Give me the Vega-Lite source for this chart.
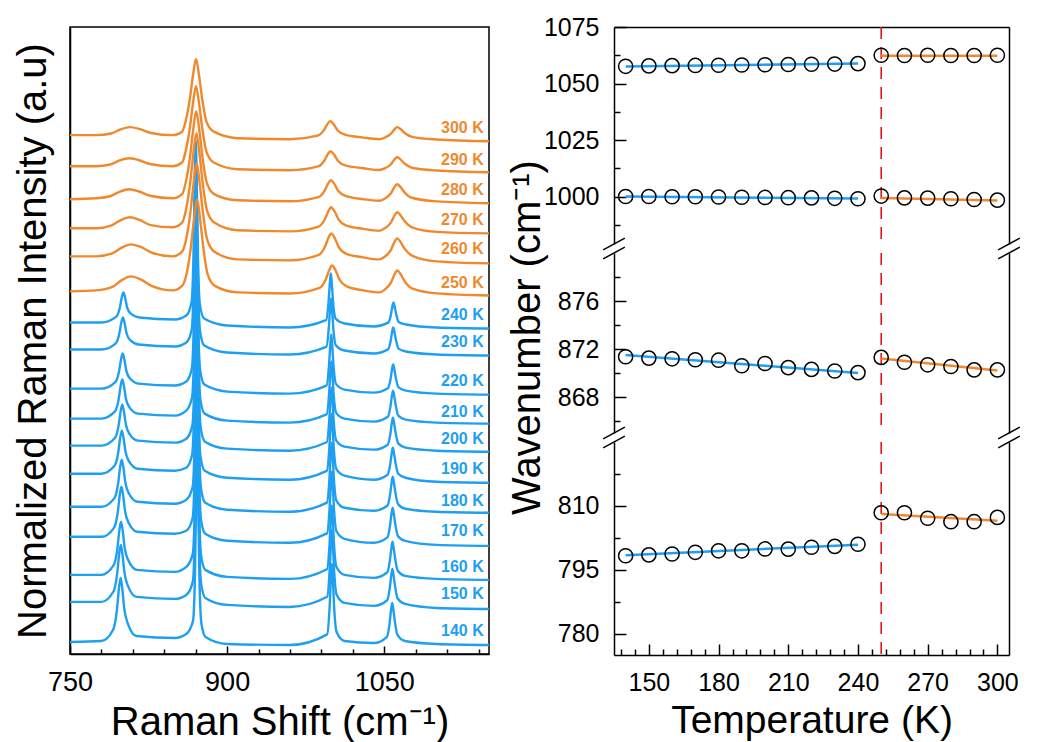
{
"$schema":"https://vega.github.io/schema/vega-lite/v6.json",
"padding":{"left":12,"top":15,"right":0,"bottom":0},
"config":{"font":"Liberation Sans","view":{"stroke":null},"axis":{"grid":false,"domainColor":"black","tickColor":"black","labelColor":"black","titleColor":"black","domainWidth":1.5,"tickWidth":1.5,"labelFont":"Liberation Sans","titleFont":"Liberation Sans","titleFontWeight":"normal","labelFlush":false,"labelOverlap":false}},
"datasets":{
"blue":[
{"T":140,"x":750,"y":12},{"T":140,"x":780,"y":13},{"T":140,"x":791.3,"y":24.5},{"T":140,"x":794.8,"y":44},{"T":140,"x":796.8,"y":66.4},{"T":140,"x":798.3,"y":76},{"T":140,"x":799.8,"y":66.4},{"T":140,"x":801.8,"y":45.3},{"T":140,"x":805.3,"y":30},{"T":140,"x":813.3,"y":18},{"T":140,"x":850,"y":16},{"T":140,"x":861,"y":20},{"T":140,"x":867.4,"y":33},{"T":140,"x":869.4,"y":85},{"T":140,"x":870.6,"y":168},{"T":140,"x":871.4,"y":196},{"T":140,"x":872.2,"y":168},{"T":140,"x":873.4,"y":85},{"T":140,"x":875.4,"y":31},{"T":140,"x":879.4,"y":17},{"T":140,"x":900,"y":10},{"T":140,"x":960,"y":9},{"T":140,"x":995.5,"y":19.6},{"T":140,"x":997.8,"y":46},{"T":140,"x":999.2,"y":78},{"T":140,"x":1000,"y":90},{"T":140,"x":1000.8,"y":78},{"T":140,"x":1002.2,"y":46},{"T":140,"x":1004.5,"y":22},{"T":140,"x":1012,"y":13},{"T":140,"x":1040,"y":11},{"T":140,"x":1052.6,"y":17.2},{"T":140,"x":1055.1,"y":30.5},{"T":140,"x":1056.6,"y":44.9},{"T":140,"x":1057.6,"y":51},{"T":140,"x":1058.6,"y":44.9},{"T":140,"x":1060.1,"y":32.6},{"T":140,"x":1062.6,"y":19},{"T":140,"x":1069.6,"y":13},{"T":140,"x":1100,"y":10},{"T":140,"x":1150,"y":9},
{"T":150,"x":750,"y":52},{"T":150,"x":780,"y":52},{"T":150,"x":791.5,"y":62.4},{"T":150,"x":795,"y":80},{"T":150,"x":797,"y":100.3},{"T":150,"x":798.5,"y":109},{"T":150,"x":800,"y":100.3},{"T":150,"x":802,"y":81.2},{"T":150,"x":805.5,"y":67.5},{"T":150,"x":813.5,"y":57},{"T":150,"x":850,"y":55},{"T":150,"x":861,"y":59},{"T":150,"x":867.2,"y":72},{"T":150,"x":869.2,"y":124},{"T":150,"x":870.4,"y":207},{"T":150,"x":871.2,"y":235},{"T":150,"x":872,"y":207},{"T":150,"x":873.2,"y":124},{"T":150,"x":875.2,"y":70},{"T":150,"x":879.2,"y":56},{"T":150,"x":900,"y":49},{"T":150,"x":960,"y":47},{"T":150,"x":995.5,"y":57.1},{"T":150,"x":997.8,"y":82.2},{"T":150,"x":999.2,"y":112.6},{"T":150,"x":1000,"y":124},{"T":150,"x":1000.8,"y":112.6},{"T":150,"x":1002.2,"y":82.2},{"T":150,"x":1004.5,"y":59.4},{"T":150,"x":1012,"y":51},{"T":150,"x":1040,"y":48},{"T":150,"x":1052.8,"y":53.7},{"T":150,"x":1055.3,"y":66},{"T":150,"x":1056.8,"y":79.3},{"T":150,"x":1057.8,"y":85},{"T":150,"x":1058.8,"y":79.3},{"T":150,"x":1060.3,"y":67.9},{"T":150,"x":1062.8,"y":55.4},{"T":150,"x":1069.8,"y":50},{"T":150,"x":1100,"y":46},{"T":150,"x":1150,"y":45},
{"T":160,"x":750,"y":79},{"T":160,"x":780,"y":79},{"T":160,"x":791.7,"y":88.7},{"T":160,"x":795.2,"y":105},{"T":160,"x":797.2,"y":123.9},{"T":160,"x":798.7,"y":132},{"T":160,"x":800.2,"y":123.9},{"T":160,"x":802.2,"y":106.1},{"T":160,"x":805.7,"y":93.5},{"T":160,"x":813.7,"y":84},{"T":160,"x":850,"y":82},{"T":160,"x":861,"y":87},{"T":160,"x":867.2,"y":100},{"T":160,"x":869.2,"y":152},{"T":160,"x":870.4,"y":235},{"T":160,"x":871.2,"y":263},{"T":160,"x":872,"y":235},{"T":160,"x":873.2,"y":152},{"T":160,"x":875.2,"y":98},{"T":160,"x":879.2,"y":84},{"T":160,"x":900,"y":77},{"T":160,"x":960,"y":75},{"T":160,"x":995.4,"y":84.6},{"T":160,"x":997.7,"y":108.4},{"T":160,"x":999.1,"y":137.2},{"T":160,"x":999.9,"y":148},{"T":160,"x":1000.7,"y":137.2},{"T":160,"x":1002.1,"y":108.4},{"T":160,"x":1004.4,"y":86.8},{"T":160,"x":1012,"y":79},{"T":160,"x":1040,"y":76},{"T":160,"x":1052.9,"y":81.6},{"T":160,"x":1055.4,"y":93.5},{"T":160,"x":1056.9,"y":106.5},{"T":160,"x":1057.9,"y":112},{"T":160,"x":1058.9,"y":106.5},{"T":160,"x":1060.4,"y":95.4},{"T":160,"x":1062.9,"y":83.1},{"T":160,"x":1069.9,"y":78},{"T":160,"x":1100,"y":75},{"T":160,"x":1150,"y":74},
{"T":170,"x":750,"y":117},{"T":170,"x":780,"y":117},{"T":170,"x":792.1,"y":126.2},{"T":170,"x":795.6,"y":141.5},{"T":170,"x":797.6,"y":159.4},{"T":170,"x":799.1,"y":167},{"T":170,"x":800.6,"y":159.4},{"T":170,"x":802.6,"y":142.5},{"T":170,"x":806.1,"y":130.8},{"T":170,"x":814.1,"y":122},{"T":170,"x":850,"y":120},{"T":170,"x":861,"y":123},{"T":170,"x":867.1,"y":136},{"T":170,"x":869.1,"y":188},{"T":170,"x":870.3,"y":271},{"T":170,"x":871.1,"y":299},{"T":170,"x":871.9,"y":271},{"T":170,"x":873.1,"y":188},{"T":170,"x":875.1,"y":134},{"T":170,"x":879.1,"y":120},{"T":170,"x":900,"y":113},{"T":170,"x":960,"y":111},{"T":170,"x":995.4,"y":120.4},{"T":170,"x":997.7,"y":143.5},{"T":170,"x":999.1,"y":171.5},{"T":170,"x":999.9,"y":182},{"T":170,"x":1000.7,"y":171.5},{"T":170,"x":1002.1,"y":143.5},{"T":170,"x":1004.4,"y":122.5},{"T":170,"x":1012,"y":115},{"T":170,"x":1040,"y":111},{"T":170,"x":1053,"y":116.4},{"T":170,"x":1055.5,"y":128},{"T":170,"x":1057,"y":140.6},{"T":170,"x":1058,"y":146},{"T":170,"x":1059,"y":140.6},{"T":170,"x":1060.5,"y":129.8},{"T":170,"x":1063,"y":117.9},{"T":170,"x":1070,"y":113},{"T":170,"x":1100,"y":109},{"T":170,"x":1150,"y":108},
{"T":180,"x":750,"y":147},{"T":180,"x":780,"y":147},{"T":180,"x":792.4,"y":155.6},{"T":180,"x":795.9,"y":170},{"T":180,"x":797.9,"y":186.8},{"T":180,"x":799.4,"y":194},{"T":180,"x":800.9,"y":186.8},{"T":180,"x":802.9,"y":171},{"T":180,"x":806.4,"y":160},{"T":180,"x":814.4,"y":152},{"T":180,"x":850,"y":150},{"T":180,"x":861,"y":154},{"T":180,"x":867.1,"y":167},{"T":180,"x":869.1,"y":219},{"T":180,"x":870.3,"y":302},{"T":180,"x":871.1,"y":330},{"T":180,"x":871.9,"y":302},{"T":180,"x":873.1,"y":219},{"T":180,"x":875.1,"y":165},{"T":180,"x":879.1,"y":151},{"T":180,"x":900,"y":144},{"T":180,"x":960,"y":142},{"T":180,"x":995.3,"y":151.2},{"T":180,"x":997.6,"y":173.6},{"T":180,"x":999,"y":200.8},{"T":180,"x":999.8,"y":211},{"T":180,"x":1000.6,"y":200.8},{"T":180,"x":1002,"y":173.6},{"T":180,"x":1004.3,"y":153.2},{"T":180,"x":1012,"y":146},{"T":180,"x":1040,"y":143},{"T":180,"x":1053.1,"y":148.3},{"T":180,"x":1055.6,"y":159.5},{"T":180,"x":1057.1,"y":171.8},{"T":180,"x":1058.1,"y":177},{"T":180,"x":1059.1,"y":171.8},{"T":180,"x":1060.6,"y":161.3},{"T":180,"x":1063.1,"y":149.7},{"T":180,"x":1070.1,"y":145},{"T":180,"x":1100,"y":142},{"T":180,"x":1150,"y":141},
{"T":190,"x":750,"y":180},{"T":190,"x":780,"y":180},{"T":190,"x":792.5,"y":187.9},{"T":190,"x":796,"y":201},{"T":190,"x":798,"y":216.4},{"T":190,"x":799.5,"y":223},{"T":190,"x":801,"y":216.4},{"T":190,"x":803,"y":201.9},{"T":190,"x":806.5,"y":192},{"T":190,"x":814.5,"y":185},{"T":190,"x":850,"y":183},{"T":190,"x":861,"y":186},{"T":190,"x":866.6,"y":199},{"T":190,"x":868.6,"y":251},{"T":190,"x":869.8,"y":334},{"T":190,"x":870.6,"y":362},{"T":190,"x":871.4,"y":334},{"T":190,"x":872.6,"y":251},{"T":190,"x":874.6,"y":197},{"T":190,"x":878.6,"y":183},{"T":190,"x":900,"y":176},{"T":190,"x":960,"y":174},{"T":190,"x":995.2,"y":182.8},{"T":190,"x":997.5,"y":204.3},{"T":190,"x":998.9,"y":230.3},{"T":190,"x":999.7,"y":240},{"T":190,"x":1000.5,"y":230.3},{"T":190,"x":1001.9,"y":204.3},{"T":190,"x":1004.2,"y":184.8},{"T":190,"x":1012,"y":178},{"T":190,"x":1040,"y":174},{"T":190,"x":1053.2,"y":179},{"T":190,"x":1055.7,"y":189.5},{"T":190,"x":1057.2,"y":201},{"T":190,"x":1058.2,"y":206},{"T":190,"x":1059.2,"y":201},{"T":190,"x":1060.7,"y":191.2},{"T":190,"x":1063.2,"y":180.3},{"T":190,"x":1070.2,"y":176},{"T":190,"x":1100,"y":172},{"T":190,"x":1150,"y":171},
{"T":200,"x":750,"y":208},{"T":200,"x":780,"y":208},{"T":200,"x":792.9,"y":215.6},{"T":200,"x":796.4,"y":228},{"T":200,"x":798.4,"y":242.7},{"T":200,"x":799.9,"y":249},{"T":200,"x":801.4,"y":242.7},{"T":200,"x":803.4,"y":228.8},{"T":200,"x":806.9,"y":219.5},{"T":200,"x":814.9,"y":213},{"T":200,"x":850,"y":211},{"T":200,"x":861,"y":215},{"T":200,"x":866.8,"y":228},{"T":200,"x":868.8,"y":280},{"T":200,"x":870,"y":363},{"T":200,"x":870.8,"y":391},{"T":200,"x":871.6,"y":363},{"T":200,"x":872.8,"y":280},{"T":200,"x":874.8,"y":226},{"T":200,"x":878.8,"y":212},{"T":200,"x":900,"y":205},{"T":200,"x":960,"y":203},{"T":200,"x":995.1,"y":211.4},{"T":200,"x":997.4,"y":231.9},{"T":200,"x":998.8,"y":256.7},{"T":200,"x":999.6,"y":266},{"T":200,"x":1000.4,"y":256.7},{"T":200,"x":1001.8,"y":231.9},{"T":200,"x":1004.1,"y":213.3},{"T":200,"x":1012,"y":207},{"T":200,"x":1040,"y":204},{"T":200,"x":1053.3,"y":209},{"T":200,"x":1055.8,"y":219.5},{"T":200,"x":1057.3,"y":231},{"T":200,"x":1058.3,"y":236},{"T":200,"x":1059.3,"y":231},{"T":200,"x":1060.8,"y":221.2},{"T":200,"x":1063.3,"y":210.3},{"T":200,"x":1070.3,"y":206},{"T":200,"x":1100,"y":203},{"T":200,"x":1150,"y":202},
{"T":210,"x":750,"y":235},{"T":210,"x":780,"y":235},{"T":210,"x":792.9,"y":242.2},{"T":210,"x":796.4,"y":254},{"T":210,"x":798.4,"y":268},{"T":210,"x":799.9,"y":274},{"T":210,"x":801.4,"y":268},{"T":210,"x":803.4,"y":254.8},{"T":210,"x":806.9,"y":246},{"T":210,"x":814.9,"y":240},{"T":210,"x":850,"y":238},{"T":210,"x":861,"y":243},{"T":210,"x":866.5,"y":256},{"T":210,"x":868.5,"y":308},{"T":210,"x":869.7,"y":391},{"T":210,"x":870.5,"y":419},{"T":210,"x":871.3,"y":391},{"T":210,"x":872.5,"y":308},{"T":210,"x":874.5,"y":254},{"T":210,"x":878.5,"y":240},{"T":210,"x":900,"y":233},{"T":210,"x":960,"y":231},{"T":210,"x":995,"y":239.2},{"T":210,"x":997.3,"y":259},{"T":210,"x":998.7,"y":283},{"T":210,"x":999.5,"y":292},{"T":210,"x":1000.3,"y":283},{"T":210,"x":1001.7,"y":259},{"T":210,"x":1004,"y":241},{"T":210,"x":1012,"y":235},{"T":210,"x":1040,"y":232},{"T":210,"x":1053.4,"y":236.8},{"T":210,"x":1055.9,"y":247},{"T":210,"x":1057.4,"y":258.2},{"T":210,"x":1058.4,"y":263},{"T":210,"x":1059.4,"y":258.2},{"T":210,"x":1060.9,"y":248.6},{"T":210,"x":1063.4,"y":238},{"T":210,"x":1070.4,"y":234},{"T":210,"x":1100,"y":231},{"T":210,"x":1150,"y":230},
{"T":220,"x":750,"y":265},{"T":220,"x":780,"y":265},{"T":220,"x":793.3,"y":271.5},{"T":220,"x":796.8,"y":282},{"T":220,"x":798.8,"y":294.6},{"T":220,"x":800.3,"y":300},{"T":220,"x":801.8,"y":294.6},{"T":220,"x":803.8,"y":282.7},{"T":220,"x":807.3,"y":275},{"T":220,"x":815.3,"y":270},{"T":220,"x":850,"y":268},{"T":220,"x":861,"y":272},{"T":220,"x":866.3,"y":285},{"T":220,"x":868.3,"y":337},{"T":220,"x":869.5,"y":420},{"T":220,"x":870.3,"y":448},{"T":220,"x":871.1,"y":420},{"T":220,"x":872.3,"y":337},{"T":220,"x":874.3,"y":283},{"T":220,"x":878.3,"y":269},{"T":220,"x":900,"y":262},{"T":220,"x":960,"y":260},{"T":220,"x":994.9,"y":268},{"T":220,"x":997.2,"y":287.1},{"T":220,"x":998.6,"y":310.3},{"T":220,"x":999.4,"y":319},{"T":220,"x":1000.2,"y":310.3},{"T":220,"x":1001.6,"y":287.1},{"T":220,"x":1003.9,"y":269.7},{"T":220,"x":1012,"y":264},{"T":220,"x":1040,"y":261},{"T":220,"x":1053.5,"y":265.4},{"T":220,"x":1056,"y":274.5},{"T":220,"x":1057.5,"y":284.7},{"T":220,"x":1058.5,"y":289},{"T":220,"x":1059.5,"y":284.7},{"T":220,"x":1061,"y":276},{"T":220,"x":1063.5,"y":266.4},{"T":220,"x":1070.5,"y":263},{"T":220,"x":1100,"y":260},{"T":220,"x":1150,"y":259},
{"T":230,"x":750,"y":304},{"T":230,"x":780,"y":304},{"T":230,"x":793.5,"y":309.9},{"T":230,"x":797,"y":319.5},{"T":230,"x":799,"y":331},{"T":230,"x":800.5,"y":336},{"T":230,"x":802,"y":331},{"T":230,"x":804,"y":320.2},{"T":230,"x":807.5,"y":313.3},{"T":230,"x":815.5,"y":309},{"T":230,"x":850,"y":307},{"T":230,"x":861,"y":311},{"T":230,"x":866.2,"y":324},{"T":230,"x":868.2,"y":376},{"T":230,"x":869.4,"y":459},{"T":230,"x":870.2,"y":487},{"T":230,"x":871,"y":459},{"T":230,"x":872.2,"y":376},{"T":230,"x":874.2,"y":322},{"T":230,"x":878.2,"y":308},{"T":230,"x":900,"y":301},{"T":230,"x":960,"y":299},{"T":230,"x":994.7,"y":306.6},{"T":230,"x":997,"y":324.8},{"T":230,"x":998.4,"y":346.8},{"T":230,"x":999.2,"y":355},{"T":230,"x":1000,"y":346.8},{"T":230,"x":1001.4,"y":324.8},{"T":230,"x":1003.7,"y":308.3},{"T":230,"x":1012,"y":303},{"T":230,"x":1040,"y":300},{"T":230,"x":1053.6,"y":304.1},{"T":230,"x":1056.1,"y":312.5},{"T":230,"x":1057.6,"y":322},{"T":230,"x":1058.6,"y":326},{"T":230,"x":1059.6,"y":322},{"T":230,"x":1061.1,"y":313.9},{"T":230,"x":1063.6,"y":304.9},{"T":230,"x":1070.6,"y":302},{"T":230,"x":1100,"y":299},{"T":230,"x":1150,"y":298},
{"T":240,"x":750,"y":331},{"T":240,"x":780,"y":331},{"T":240,"x":794,"y":336.6},{"T":240,"x":797.5,"y":345.5},{"T":240,"x":799.5,"y":356.4},{"T":240,"x":801,"y":361},{"T":240,"x":802.5,"y":356.4},{"T":240,"x":804.5,"y":346.1},{"T":240,"x":808,"y":339.8},{"T":240,"x":816,"y":336},{"T":240,"x":850,"y":334},{"T":240,"x":861,"y":338},{"T":240,"x":866,"y":351},{"T":240,"x":868,"y":403},{"T":240,"x":869.2,"y":485},{"T":240,"x":870,"y":513},{"T":240,"x":870.8,"y":485},{"T":240,"x":872,"y":403},{"T":240,"x":874,"y":349},{"T":240,"x":878,"y":335},{"T":240,"x":900,"y":328},{"T":240,"x":960,"y":326},{"T":240,"x":994.5,"y":333.4},{"T":240,"x":996.8,"y":350.9},{"T":240,"x":998.2,"y":372},{"T":240,"x":999,"y":380},{"T":240,"x":999.8,"y":372},{"T":240,"x":1001.2,"y":350.9},{"T":240,"x":1003.5,"y":335},{"T":240,"x":1012,"y":330},{"T":240,"x":1040,"y":327},{"T":240,"x":1053.8,"y":330.8},{"T":240,"x":1056.3,"y":338.5},{"T":240,"x":1057.8,"y":347.3},{"T":240,"x":1058.8,"y":351},{"T":240,"x":1059.8,"y":347.3},{"T":240,"x":1061.3,"y":339.8},{"T":240,"x":1063.8,"y":331.5},{"T":240,"x":1070.8,"y":329},{"T":240,"x":1100,"y":326},{"T":240,"x":1150,"y":325}
],
"orange":[
{"T":250,"x":750,"y":362},{"T":250,"x":775,"y":363},{"T":250,"x":790.4,"y":366.5},{"T":250,"x":799.4,"y":373.3},{"T":250,"x":808.4,"y":377},{"T":250,"x":817.4,"y":374},{"T":250,"x":828.4,"y":367.3},{"T":250,"x":848,"y":363},{"T":250,"x":857,"y":367.5},{"T":250,"x":861.3,"y":379.6},{"T":250,"x":865.3,"y":405.6},{"T":250,"x":868.3,"y":433.5},{"T":250,"x":871.3,"y":454},{"T":250,"x":874.3,"y":433.5},{"T":250,"x":877.3,"y":405.6},{"T":250,"x":881.3,"y":379.6},{"T":250,"x":888.3,"y":367.5},{"T":250,"x":910,"y":361},{"T":250,"x":960,"y":360},{"T":250,"x":988.2,"y":365.6},{"T":250,"x":994.2,"y":374},{"T":250,"x":997.7,"y":383.8},{"T":250,"x":1000.2,"y":388},{"T":250,"x":1003.2,"y":383.8},{"T":250,"x":1007.2,"y":374},{"T":250,"x":1014.2,"y":367},{"T":250,"x":1030,"y":363},{"T":250,"x":1045,"y":361},{"T":250,"x":1050.5,"y":363.8},{"T":250,"x":1056.5,"y":371},{"T":250,"x":1060.5,"y":380.6},{"T":250,"x":1062.5,"y":383},{"T":250,"x":1065.5,"y":379.4},{"T":250,"x":1069.5,"y":372.2},{"T":250,"x":1076.5,"y":365},{"T":250,"x":1100,"y":360},{"T":250,"x":1150,"y":358},
{"T":260,"x":750,"y":397},{"T":260,"x":775,"y":397},{"T":260,"x":790.4,"y":399.9},{"T":260,"x":799.4,"y":405.8},{"T":260,"x":808.4,"y":409},{"T":260,"x":817.4,"y":406.4},{"T":260,"x":828.4,"y":400.6},{"T":260,"x":848,"y":397},{"T":260,"x":857,"y":401.7},{"T":260,"x":860.9,"y":414},{"T":260,"x":864.9,"y":440.6},{"T":260,"x":867.9,"y":469.1},{"T":260,"x":870.9,"y":490},{"T":260,"x":873.9,"y":469.1},{"T":260,"x":876.9,"y":440.6},{"T":260,"x":880.9,"y":414},{"T":260,"x":887.9,"y":401.7},{"T":260,"x":910,"y":394},{"T":260,"x":960,"y":393},{"T":260,"x":987.4,"y":398.4},{"T":260,"x":993.4,"y":406.5},{"T":260,"x":996.9,"y":416},{"T":260,"x":999.4,"y":420},{"T":260,"x":1002.4,"y":416},{"T":260,"x":1006.4,"y":406.5},{"T":260,"x":1013.4,"y":399.8},{"T":260,"x":1030,"y":396},{"T":260,"x":1045,"y":394},{"T":260,"x":1050.4,"y":396.6},{"T":260,"x":1056.4,"y":403.5},{"T":260,"x":1060.4,"y":412.7},{"T":260,"x":1062.4,"y":415},{"T":260,"x":1065.4,"y":411.6},{"T":260,"x":1069.4,"y":404.7},{"T":260,"x":1076.4,"y":397.8},{"T":260,"x":1100,"y":392},{"T":260,"x":1150,"y":390},
{"T":270,"x":750,"y":425},{"T":270,"x":775,"y":425},{"T":270,"x":789.1,"y":427.6},{"T":270,"x":798.1,"y":433},{"T":270,"x":807.1,"y":436},{"T":270,"x":816.1,"y":433.6},{"T":270,"x":827.1,"y":428.2},{"T":270,"x":848,"y":426},{"T":270,"x":857,"y":430.7},{"T":270,"x":860.7,"y":443.2},{"T":270,"x":864.7,"y":470.1},{"T":270,"x":867.7,"y":498.9},{"T":270,"x":870.7,"y":520},{"T":270,"x":873.7,"y":498.9},{"T":270,"x":876.7,"y":470.1},{"T":270,"x":880.7,"y":443.2},{"T":270,"x":887.7,"y":430.7},{"T":270,"x":910,"y":423},{"T":270,"x":960,"y":422},{"T":270,"x":987.3,"y":426.8},{"T":270,"x":993.3,"y":434},{"T":270,"x":996.8,"y":442.4},{"T":270,"x":999.3,"y":446},{"T":270,"x":1002.3,"y":442.4},{"T":270,"x":1006.3,"y":434},{"T":270,"x":1013.3,"y":428},{"T":270,"x":1030,"y":424.5},{"T":270,"x":1045,"y":422.5},{"T":270,"x":1050.5,"y":425},{"T":270,"x":1056.5,"y":431},{"T":270,"x":1060.5,"y":439},{"T":270,"x":1062.5,"y":441},{"T":270,"x":1065.5,"y":438},{"T":270,"x":1069.5,"y":432},{"T":270,"x":1076.5,"y":426},{"T":270,"x":1100,"y":421.5},{"T":270,"x":1150,"y":420},
{"T":280,"x":750,"y":454},{"T":280,"x":775,"y":455},{"T":280,"x":788.3,"y":457},{"T":280,"x":797.3,"y":461.5},{"T":280,"x":806.3,"y":464},{"T":280,"x":815.3,"y":462},{"T":280,"x":826.3,"y":457.5},{"T":280,"x":848,"y":455},{"T":280,"x":857,"y":459.2},{"T":280,"x":860.5,"y":470.8},{"T":280,"x":864.5,"y":495.7},{"T":280,"x":867.5,"y":522.4},{"T":280,"x":870.5,"y":542},{"T":280,"x":873.5,"y":522.4},{"T":280,"x":876.5,"y":495.7},{"T":280,"x":880.5,"y":470.8},{"T":280,"x":887.5,"y":459.2},{"T":280,"x":910,"y":453},{"T":280,"x":960,"y":452},{"T":280,"x":987,"y":456.2},{"T":280,"x":993,"y":462.5},{"T":280,"x":996.5,"y":469.9},{"T":280,"x":999,"y":473},{"T":280,"x":1002,"y":469.9},{"T":280,"x":1006,"y":462.5},{"T":280,"x":1013,"y":457.3},{"T":280,"x":1030,"y":454},{"T":280,"x":1045,"y":452.5},{"T":280,"x":1050.4,"y":454.6},{"T":280,"x":1056.4,"y":460},{"T":280,"x":1060.4,"y":467.2},{"T":280,"x":1062.4,"y":469},{"T":280,"x":1065.4,"y":466.3},{"T":280,"x":1069.4,"y":460.9},{"T":280,"x":1076.4,"y":455.5},{"T":280,"x":1100,"y":451.9},{"T":280,"x":1150,"y":450},
{"T":290,"x":750,"y":487},{"T":290,"x":775,"y":487},{"T":290,"x":788.3,"y":488.7},{"T":290,"x":797.3,"y":492.8},{"T":290,"x":806.3,"y":495},{"T":290,"x":815.3,"y":493.2},{"T":290,"x":826.3,"y":489.2},{"T":290,"x":848,"y":487},{"T":290,"x":857,"y":490.7},{"T":290,"x":860.3,"y":501.4},{"T":290,"x":864.3,"y":524.4},{"T":290,"x":867.3,"y":549},{"T":290,"x":870.3,"y":567},{"T":290,"x":873.3,"y":549},{"T":290,"x":876.3,"y":524.4},{"T":290,"x":880.3,"y":501.4},{"T":290,"x":887.3,"y":490.7},{"T":290,"x":910,"y":484},{"T":290,"x":960,"y":483},{"T":290,"x":986.7,"y":486.8},{"T":290,"x":992.7,"y":492.5},{"T":290,"x":996.2,"y":499.2},{"T":290,"x":998.7,"y":502},{"T":290,"x":1001.7,"y":499.2},{"T":290,"x":1005.7,"y":492.5},{"T":290,"x":1012.7,"y":487.8},{"T":290,"x":1030,"y":485},{"T":290,"x":1045,"y":483.2},{"T":290,"x":1050.4,"y":484.8},{"T":290,"x":1056.4,"y":489},{"T":290,"x":1060.4,"y":494.6},{"T":290,"x":1062.4,"y":496},{"T":290,"x":1065.4,"y":493.9},{"T":290,"x":1069.4,"y":489.7},{"T":290,"x":1076.4,"y":485.5},{"T":290,"x":1100,"y":482.7},{"T":290,"x":1150,"y":481},
{"T":300,"x":750,"y":518},{"T":300,"x":775,"y":518},{"T":300,"x":789.3,"y":519.7},{"T":300,"x":798.3,"y":523.8},{"T":300,"x":807.3,"y":526},{"T":300,"x":816.3,"y":524.2},{"T":300,"x":827.3,"y":520.2},{"T":300,"x":848,"y":518},{"T":300,"x":857,"y":521.5},{"T":300,"x":860.3,"y":531.6},{"T":300,"x":864.3,"y":553.4},{"T":300,"x":867.3,"y":576.8},{"T":300,"x":870.3,"y":594},{"T":300,"x":873.3,"y":576.8},{"T":300,"x":876.3,"y":553.4},{"T":300,"x":880.3,"y":531.6},{"T":300,"x":887.3,"y":521.5},{"T":300,"x":910,"y":515},{"T":300,"x":960,"y":514},{"T":300,"x":986.4,"y":517.6},{"T":300,"x":992.4,"y":523},{"T":300,"x":995.9,"y":529.3},{"T":300,"x":998.4,"y":532},{"T":300,"x":1001.4,"y":529.3},{"T":300,"x":1005.4,"y":523},{"T":300,"x":1012.4,"y":518.5},{"T":300,"x":1030,"y":515.6},{"T":300,"x":1045,"y":514},{"T":300,"x":1050.5,"y":515.6},{"T":300,"x":1056.5,"y":519.5},{"T":300,"x":1060.5,"y":524.7},{"T":300,"x":1062.5,"y":526},{"T":300,"x":1065.5,"y":524.1},{"T":300,"x":1069.5,"y":520.2},{"T":300,"x":1076.5,"y":516.3},{"T":300,"x":1100,"y":513.7},{"T":300,"x":1150,"y":512}
],
"labels":[
{"lab":"300 K","ph":"o","y":525},{"lab":"290 K","ph":"o","y":493},{"lab":"280 K","ph":"o","y":463},{"lab":"270 K","ph":"o","y":433},{"lab":"260 K","ph":"o","y":404},{"lab":"250 K","ph":"o","y":370},{"lab":"240 K","ph":"b","y":338},{"lab":"230 K","ph":"b","y":312},{"lab":"220 K","ph":"b","y":273},{"lab":"210 K","ph":"b","y":242},{"lab":"200 K","ph":"b","y":215},{"lab":"190 K","ph":"b","y":185},{"lab":"180 K","ph":"b","y":153},{"lab":"170 K","ph":"b","y":123},{"lab":"160 K","ph":"b","y":87},{"lab":"150 K","ph":"b","y":60},{"lab":"140 K","ph":"b","y":23}
],
"peaks":[
{"p":"d","T":140,"v":1057.6},{"p":"d","T":150,"v":1057.8},{"p":"d","T":160,"v":1057.9},{"p":"d","T":170,"v":1058.0},{"p":"d","T":180,"v":1058.1},{"p":"d","T":190,"v":1058.2},{"p":"d","T":200,"v":1058.3},{"p":"d","T":210,"v":1058.4},{"p":"d","T":220,"v":1058.5},{"p":"d","T":230,"v":1058.6},{"p":"d","T":240,"v":1058.8},{"p":"d","T":250,"v":1062.5},{"p":"d","T":260,"v":1062.4},{"p":"d","T":270,"v":1062.5},{"p":"d","T":280,"v":1062.4},{"p":"d","T":290,"v":1062.4},{"p":"d","T":300,"v":1062.5},
{"p":"c","T":140,"v":1000.0},{"p":"c","T":150,"v":1000.0},{"p":"c","T":160,"v":999.9},{"p":"c","T":170,"v":999.9},{"p":"c","T":180,"v":999.8},{"p":"c","T":190,"v":999.7},{"p":"c","T":200,"v":999.6},{"p":"c","T":210,"v":999.5},{"p":"c","T":220,"v":999.4},{"p":"c","T":230,"v":999.2},{"p":"c","T":240,"v":999.0},{"p":"c","T":250,"v":1000.2},{"p":"c","T":260,"v":999.4},{"p":"c","T":270,"v":999.3},{"p":"c","T":280,"v":999.0},{"p":"c","T":290,"v":998.7},{"p":"c","T":300,"v":998.4},
{"p":"b","T":140,"v":871.35},{"p":"b","T":150,"v":871.24},{"p":"b","T":160,"v":871.18},{"p":"b","T":170,"v":871.1},{"p":"b","T":180,"v":871.07},{"p":"b","T":190,"v":870.6},{"p":"b","T":200,"v":870.79},{"p":"b","T":210,"v":870.45},{"p":"b","T":220,"v":870.3},{"p":"b","T":230,"v":870.17},{"p":"b","T":240,"v":870.03},{"p":"b","T":250,"v":871.3},{"p":"b","T":260,"v":870.9},{"p":"b","T":270,"v":870.68},{"p":"b","T":280,"v":870.54},{"p":"b","T":290,"v":870.26},{"p":"b","T":300,"v":870.26},
{"p":"a","T":140,"v":798.3},{"p":"a","T":150,"v":798.5},{"p":"a","T":160,"v":798.7},{"p":"a","T":170,"v":799.1},{"p":"a","T":180,"v":799.45},{"p":"a","T":190,"v":799.45},{"p":"a","T":200,"v":799.9},{"p":"a","T":210,"v":799.85},{"p":"a","T":220,"v":800.3},{"p":"a","T":230,"v":800.5},{"p":"a","T":240,"v":801.0},{"p":"a","T":250,"v":808.4},{"p":"a","T":260,"v":808.4},{"p":"a","T":270,"v":807.1},{"p":"a","T":280,"v":806.3},{"p":"a","T":290,"v":806.3},{"p":"a","T":300,"v":807.3}
],
"fits":[
{"p":"d","ph":"lo","T":140,"v":1057.5},{"p":"d","ph":"lo","T":240,"v":1058.9},{"p":"d","ph":"hi","T":250,"v":1062.3},{"p":"d","ph":"hi","T":300,"v":1062.3},
{"p":"c","ph":"lo","T":140,"v":1000.0},{"p":"c","ph":"lo","T":240,"v":999.1},{"p":"c","ph":"hi","T":250,"v":999.4},{"p":"c","ph":"hi","T":300,"v":998.2},
{"p":"b","ph":"lo","T":140,"v":871.5},{"p":"b","ph":"lo","T":240,"v":870.0},{"p":"b","ph":"hi","T":250,"v":871.2},{"p":"b","ph":"hi","T":300,"v":870.2},
{"p":"a","ph":"lo","T":140,"v":798.4},{"p":"a","ph":"lo","T":240,"v":800.9},{"p":"a","ph":"hi","T":250,"v":808.1},{"p":"a","ph":"hi","T":300,"v":806.5}
],
"breaks":[
{"s":"top","x":135,"y":979},{"s":"top","x":305,"y":979},
{"s":"mid","x":135,"y":880},{"s":"mid","x":305,"y":880},{"s":"mid","x":135,"y":865},{"s":"mid","x":305,"y":865},
{"s":"bot","x":135,"y":825},{"s":"bot","x":305,"y":825}
]
},
"hconcat":[
{
"width":419,"height":627,
"view":{"stroke":"black","strokeWidth":1.5},
"layer":[
{"data":{"name":"blue"},"mark":{"type":"line","color":"#1e9ff2","strokeWidth":2.4,"interpolate":"monotone"},
"encoding":{
"x":{"field":"x","type":"quantitative","scale":{"domain":[750,1150],"nice":false,"zero":false},
"axis":{"values":[750,780,810,840,870,900,930,960,990,1020,1050,1080,1110,1140],"format":"d","labelExpr":"datum.value % 150 === 0 ? datum.label : ''","tickSize":{"condition":{"test":"datum.value % 150 === 0","value":-8},"value":-5},"labelPadding":23,"labelFontSize":27,"title":"Raman Shift (cm⁻¹)","titleFontSize":40,"titlePadding":4}},
"y":{"field":"y","type":"quantitative","scale":{"domain":[0,626],"nice":false,"zero":false},
"axis":{"labels":false,"ticks":false,"title":"Normalized Raman Intensity (a.u)","titleFontSize":40,"titlePadding":17}},
"detail":{"field":"T","type":"nominal"}}},
{"data":{"name":"orange"},"mark":{"type":"line","color":"#f0892e","strokeWidth":2.4,"interpolate":"monotone"},
"encoding":{
"x":{"field":"x","type":"quantitative","scale":{"domain":[750,1150],"nice":false,"zero":false},"axis":null},
"y":{"field":"y","type":"quantitative","scale":{"domain":[0,626],"nice":false,"zero":false},"axis":null},
"detail":{"field":"T","type":"nominal"}}},
{"data":{"name":"labels"},"mark":{"type":"text","align":"right","baseline":"middle","fontSize":16,"fontWeight":"bold","font":"Liberation Sans"},
"encoding":{
"x":{"datum":1145,"type":"quantitative","scale":{"domain":[750,1150],"nice":false,"zero":false},"axis":null},
"y":{"field":"y","type":"quantitative","scale":{"domain":[0,626],"nice":false,"zero":false},"axis":null},
"text":{"field":"lab"},
"color":{"field":"ph","type":"nominal","scale":{"domain":["b","o"],"range":["#1e9ff2","#f0892e"]},"legend":null}}}
],
"resolve":{"axis":{"x":"independent","y":"independent"}}
},
{
"vconcat":[
{
"width":395,"height":217,"view":{"stroke":null},
"layer":[
{"data":{"values":[{"T":250}]},"mark":{"type":"rule","color":"#e8141c","strokeWidth":1.6,"strokeDash":[12,8]},
"encoding":{"x":{"field":"T","type":"quantitative","scale":{"domain":[135,305],"nice":false,"zero":false},"axis":{"orient":"top","labels":false,"ticks":false,"title":null}}}},
{"data":{"name":"fits"},"transform":[{"filter":{"field":"p","oneOf":["c","d"]}}],"mark":{"type":"line","strokeWidth":2.5},
"encoding":{"x":{"field":"T","type":"quantitative","scale":{"domain":[135,305],"nice":false,"zero":false},"axis":null},
"y":{"field":"v","type":"quantitative","scale":{"domain":[979,1075],"nice":false,"zero":false},
"axis":{"values":[987.5,1000,1012.5,1025,1037.5,1050,1062.5,1075],"format":"d","labelExpr":"datum.value % 25 === 0 ? datum.label : ''","tickSize":{"condition":{"test":"datum.value % 25 === 0","value":-12},"value":-6},"labelPadding":27,"labelFontSize":25,"title":null}},
"color":{"field":"ph","type":"nominal","scale":{"domain":["lo","hi"],"range":["#1c9ce8","#f08c35"]},"legend":null},
"detail":{"field":"p","type":"nominal"}}},
{"data":{"name":"peaks"},"transform":[{"filter":{"field":"p","oneOf":["c","d"]}}],"mark":{"type":"point","shape":"circle","filled":false,"stroke":"black","strokeWidth":1.5,"size":200,"opacity":1},
"encoding":{"x":{"field":"T","type":"quantitative","scale":{"domain":[135,305],"nice":false,"zero":false},"axis":null},
"y":{"field":"v","type":"quantitative","scale":{"domain":[979,1075],"nice":false,"zero":false},"axis":null}}},
{"data":{"name":"breaks"},"transform":[{"filter":"datum.s === 'top'"}],"mark":{"type":"point","shape":"M-1,0.54L1,-0.54","filled":false,"stroke":"black","strokeWidth":1.5,"size":470,"opacity":1},
"encoding":{"x":{"field":"x","type":"quantitative","scale":{"domain":[135,305],"nice":false,"zero":false},"axis":null},
"y":{"field":"y","type":"quantitative","scale":{"domain":[979,1075],"nice":false,"zero":false},"axis":{"orient":"right","labels":false,"ticks":false,"title":null}}}}
],
"resolve":{"axis":{"x":"independent","y":"independent"}}
},
{
"width":395,"height":180,"view":{"stroke":null},
"layer":[
{"data":{"values":[{"T":250}]},"mark":{"type":"rule","color":"#e8141c","strokeWidth":1.6,"strokeDash":[12,8]},
"encoding":{"x":{"field":"T","type":"quantitative","scale":{"domain":[135,305],"nice":false,"zero":false},"axis":null}}},
{"data":{"name":"fits"},"transform":[{"filter":{"field":"p","equal":"b"}}],"mark":{"type":"line","strokeWidth":2.5},
"encoding":{"x":{"field":"T","type":"quantitative","scale":{"domain":[135,305],"nice":false,"zero":false},"axis":null},
"y":{"field":"v","type":"quantitative","scale":{"domain":[865,880],"nice":false,"zero":false},
"axis":{"values":[866,868,870,872,874,876,878],"format":"d","labelExpr":"(datum.value - 868) % 4 === 0 ? datum.label : ''","tickSize":{"condition":{"test":"(datum.value - 868) % 4 === 0","value":-12},"value":-6},"labelPadding":27,"labelFontSize":25,"title":"Wavenumber (cm⁻¹)","titleFontSize":40,"titleX":-67,"titleY":84}},
"color":{"field":"ph","type":"nominal","scale":{"domain":["lo","hi"],"range":["#1c9ce8","#f08c35"]},"legend":null},
"detail":{"field":"p","type":"nominal"}}},
{"data":{"name":"peaks"},"transform":[{"filter":{"field":"p","equal":"b"}}],"mark":{"type":"point","shape":"circle","filled":false,"stroke":"black","strokeWidth":1.5,"size":200,"opacity":1},
"encoding":{"x":{"field":"T","type":"quantitative","scale":{"domain":[135,305],"nice":false,"zero":false},"axis":null},
"y":{"field":"v","type":"quantitative","scale":{"domain":[865,880],"nice":false,"zero":false},"axis":null}}},
{"data":{"name":"breaks"},"transform":[{"filter":"datum.s === 'mid'"}],"mark":{"type":"point","shape":"M-1,0.54L1,-0.54","filled":false,"stroke":"black","strokeWidth":1.5,"size":470,"opacity":1},
"encoding":{"x":{"field":"x","type":"quantitative","scale":{"domain":[135,305],"nice":false,"zero":false},"axis":null},
"y":{"field":"y","type":"quantitative","scale":{"domain":[865,880],"nice":false,"zero":false},"axis":{"orient":"right","labels":false,"ticks":false,"title":null}}}}
],
"resolve":{"axis":{"x":"independent","y":"independent"}}
},
{
"width":395,"height":213,"view":{"stroke":null},
"layer":[
{"data":{"values":[{"T":250}]},"mark":{"type":"rule","color":"#e8141c","strokeWidth":1.6,"strokeDash":[12,8]},
"encoding":{"x":{"field":"T","type":"quantitative","scale":{"domain":[135,305],"nice":false,"zero":false},
"axis":{"values":[138,144,150,156,162,168,174,180,186,192,198,204,210,216,222,228,234,240,246,252,258,264,270,276,282,288,294,300],"format":"d","labelExpr":"datum.value % 30 === 0 ? datum.label : ''","tickSize":{"condition":{"test":"datum.value % 30 === 0","value":-11},"value":-6},"labelPadding":26,"labelFontSize":25,"title":"Temperature (K)","titleFontSize":39,"titlePadding":1}}}},
{"data":{"name":"fits"},"transform":[{"filter":{"field":"p","equal":"a"}}],"mark":{"type":"line","strokeWidth":2.5},
"encoding":{"x":{"field":"T","type":"quantitative","scale":{"domain":[135,305],"nice":false,"zero":false},"axis":null},
"y":{"field":"v","type":"quantitative","scale":{"domain":[775,825],"nice":false,"zero":false},
"axis":{"values":[780,787.5,795,802.5,810,817.5],"format":"d","labelExpr":"(datum.value - 780) % 15 === 0 ? datum.label : ''","tickSize":{"condition":{"test":"(datum.value - 780) % 15 === 0","value":-12},"value":-6},"labelPadding":27,"labelFontSize":25,"title":null}},
"color":{"field":"ph","type":"nominal","scale":{"domain":["lo","hi"],"range":["#1c9ce8","#f08c35"]},"legend":null},
"detail":{"field":"p","type":"nominal"}}},
{"data":{"name":"peaks"},"transform":[{"filter":{"field":"p","equal":"a"}}],"mark":{"type":"point","shape":"circle","filled":false,"stroke":"black","strokeWidth":1.5,"size":200,"opacity":1},
"encoding":{"x":{"field":"T","type":"quantitative","scale":{"domain":[135,305],"nice":false,"zero":false},"axis":null},
"y":{"field":"v","type":"quantitative","scale":{"domain":[775,825],"nice":false,"zero":false},"axis":null}}},
{"data":{"name":"breaks"},"transform":[{"filter":"datum.s === 'bot'"}],"mark":{"type":"point","shape":"M-1,0.54L1,-0.54","filled":false,"stroke":"black","strokeWidth":1.5,"size":470,"opacity":1},
"encoding":{"x":{"field":"x","type":"quantitative","scale":{"domain":[135,305],"nice":false,"zero":false},"axis":null},
"y":{"field":"y","type":"quantitative","scale":{"domain":[775,825],"nice":false,"zero":false},"axis":{"orient":"right","labels":false,"ticks":false,"title":null}}}}
],
"resolve":{"axis":{"x":"independent","y":"independent"}}
}
],
"spacing":9,
"bounds":"flush"
}
],
"spacing":11
}
